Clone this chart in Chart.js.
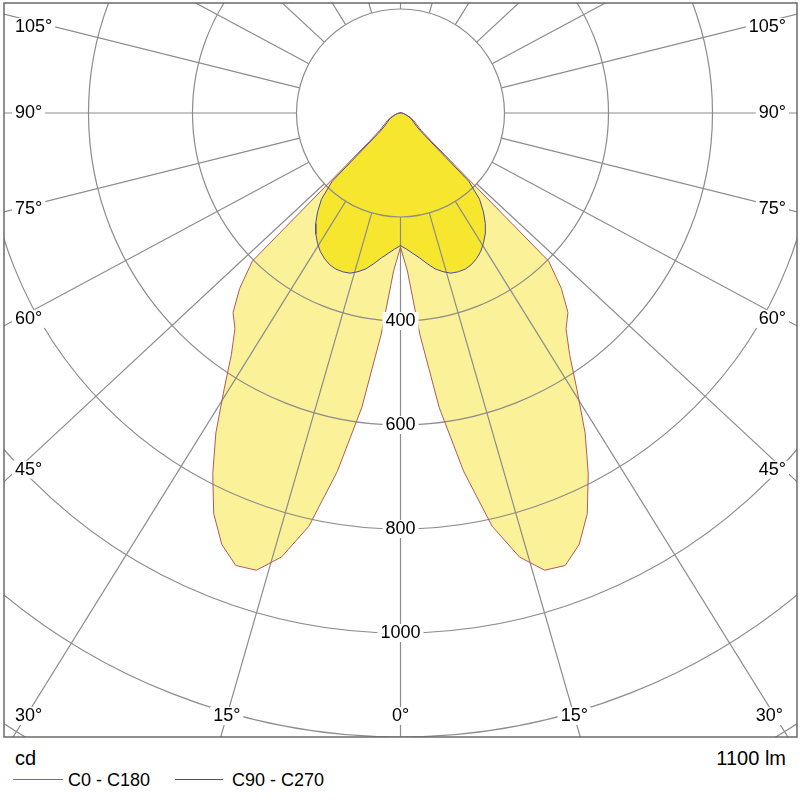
<!DOCTYPE html>
<html>
<head>
<meta charset="utf-8">
<script src="https://cdn.jsdelivr.net/npm/chart.js@4.4.1/dist/chart.umd.min.js"></script>
<style>
  html, body { margin: 0; padding: 0; background: #fff; }
  body { width: 800px; height: 800px; position: relative; overflow: hidden;
         font-family: "Liberation Sans", Arial, sans-serif; color: #000; }
  #wrap { position: absolute; left: 0; top: 0; width: 800px; height: 740px; }
  .foot { position: absolute; white-space: nowrap; }
  .unit { top: 748px; font-size: 20px; line-height: 20px; }
  .key { top: 771px; font-size: 18px; line-height: 18px; }
  .swatch { position: absolute; top: 779px; height: 1px; }
</style>
</head>
<body>
<div id="wrap"><canvas id="polar"></canvas></div>
<div class="foot unit" id="unitLabel" style="left:15px"></div>
<div class="foot unit" id="fluxLabel" style="right:14px"></div>
<div class="swatch" id="sw0" style="left:13px;width:50px"></div>
<div class="foot key" id="key0" style="left:68px"></div>
<div class="swatch" id="sw1" style="left:175px;width:48px"></div>
<div class="foot key" id="key1" style="left:232px"></div>
<script>
// Light distribution, symmetric planes. Angle 0 = straight down, 180 = straight up.
const angles = [0, 2.5, 5, 7.5, 10, 12.5, 15, 17.5, 20, 22.5, 25, 27.5, 30, 32.5, 35, 37.5, 40, 42.5, 45, 47.5, 50,
                55, 60, 65, 70, 75, 80, 85, 90, 95, 100, 105, 110, 115, 120, 125, 130, 135, 140, 145, 150, 155, 160, 165, 170, 175, 180];

// cd values, C0 - C180 plane
const c0c180 = [258, 304, 428, 572, 700, 814, 884, 922, 926, 898, 850, 782, 710, 632, 567, 523, 501, 458, 403, 82, 52,
                37, 29, 21, 14, 9, 6, 4, 2, 1, 1, 1, 1, 1, 1, 1, 1, 1, 1, 1, 1, 1, 1, 1, 1, 1, 1];

// cd values, C90 - C270 plane
const c90c270 = [255, 262, 271, 281, 294, 307, 316, 323, 325, 325, 322, 316, 308, 297, 284, 268, 248, 225, 186, 58, 41,
                 31, 25, 18, 12, 8, 5, 3, 2, 1, 1, 1, 1, 1, 1, 1, 1, 1, 1, 1, 1, 1, 1, 1, 1, 1, 1];

const rings = [200, 400, 600, 800, 1000, 1200, 1400];
const ringLabels = [400, 600, 800, 1000];
const angleTicks = [0, 15, 30, 45, 60, 75, 90, 105];
const seriesNames = ['C0 - C180', 'C90 - C270'];
const unitText = 'cd';
const fluxText = '1100 lm';

const C0_LINE = '#b05a5a';
const C90_LINE = '#4c4c9c';
const C0_FILL = 'rgb(251, 241, 152)';
const C90_FILL = 'rgb(246, 231, 46)';
const GRID = '#8c8c8c';
const FONT = '18px "Liberation Sans", Arial, sans-serif';

// the source draws its spokes a little flattened towards the horizontal
const LINE_SQUEEZE = 0.93;
const LABEL_SQUEEZE = 0.96;

// turn one plane into a closed outline (right half, then mirrored left half)
function polarPoints(values) {
  const pts = [];
  angles.forEach((a, i) => {
    const t = a * Math.PI / 180;
    pts.push({ x: values[i] * Math.sin(t), y: -values[i] * Math.cos(t) });
  });
  for (let i = angles.length - 2; i >= 0; i--) {
    const t = angles[i] * Math.PI / 180;
    pts.push({ x: -values[i] * Math.sin(t), y: -values[i] * Math.cos(t) });
  }
  return pts;
}

function spoke(deg, squeeze) {
  const t = deg * Math.PI / 180;
  const ux = Math.sin(t), uy = Math.cos(t) * squeeze;
  const n = Math.hypot(ux, uy);
  return [ux / n, uy / n];
}

function centre(chart) {
  const { x, y } = chart.scales;
  const cx = x.getPixelForValue(0), cy = y.getPixelForValue(0);
  const k = x.getPixelForValue(100) - cx; // px per 100 cd
  return { cx, cy, k };
}

function labelBox(ctx, text, px, py, align) {
  const w = ctx.measureText(text).width;
  let left = px - w / 2;
  if (align === 'left') left = px;
  if (align === 'right') left = px - w;
  ctx.fillStyle = '#fff';
  ctx.fillRect(left - 3, py - 9, w + 6, 18);
  ctx.fillStyle = '#000';
  ctx.fillText(text, left, py);
}

const polarGrid = {
  id: 'polarGrid',
  // grid goes over both fills but under the two outlines
  afterDatasetDraw(chart, args) {
    if (args.index !== 2) return;
    const { ctx, chartArea: a } = chart;
    const { cx, cy, k } = centre(chart);
    ctx.save();
    ctx.beginPath();
    ctx.rect(a.left, a.top, a.right - a.left, a.bottom - a.top);
    ctx.clip();
    ctx.strokeStyle = GRID;
    ctx.lineWidth = 1.2;
    rings.forEach(v => {
      ctx.beginPath();
      ctx.arc(cx, cy, v * k / 100, 0, Math.PI * 2);
      ctx.stroke();
    });
    const r0 = rings[0] * k / 100;
    for (let deg = 0; deg < 360; deg += 15) {
      const [ux, uy] = spoke(deg, LINE_SQUEEZE);
      ctx.beginPath();
      ctx.moveTo(cx + ux * r0, cy + uy * r0);
      ctx.lineTo(cx + ux * 2000, cy + uy * 2000);
      ctx.stroke();
    }
    ctx.restore();
  },
  afterDraw(chart) {
    const { ctx, chartArea: a } = chart;
    const { cx, cy, k } = centre(chart);
    ctx.save();
    ctx.font = FONT;
    ctx.textBaseline = 'middle';

    ringLabels.forEach(v => labelBox(ctx, String(v), cx, cy + v * k / 100, 'center'));

    const bottomY = a.bottom - 21;
    angleTicks.forEach(deg => {
      const text = deg + '°';
      const w = ctx.measureText(text).width;
      const sides = deg === 0 ? [1] : [-1, 1];
      sides.forEach(side => {
        const [bx, by] = spoke(deg, LINE_SQUEEZE);
        const toBottom = by > 0 ? (bottomY - cy) / by : Infinity;
        // side labels: downward spokes sit on a slightly steeper ray,
        // upward ones where the spoke leaves the label's inner end
        let py;
        if (deg > 90) {
          const reach = cx - a.left - 14 - w;
          py = cy + by * reach / bx;
        } else {
          const [lx, ly] = spoke(deg, LABEL_SQUEEZE);
          py = lx > 0 ? cy + ly * (cx - a.left - 25) / lx : Infinity;
        }
        if (py < bottomY - 30) {
          if (side < 0) labelBox(ctx, text, a.left + 11, py, 'left');
          else labelBox(ctx, text, a.right - 11, py, 'right');
        } else {
          let px = cx + side * bx * toBottom;
          px = Math.max(a.left + 11 + w / 2, Math.min(a.right - 14 - w / 2, px));
          labelBox(ctx, text, px, bottomY, 'center');
        }
      });
    });

    ctx.strokeStyle = '#6a6a6a';
    ctx.lineWidth = 1.5;
    ctx.strokeRect(a.left, a.top, a.right - a.left, a.bottom - a.top);
    ctx.restore();
  }
};

const c0Points = polarPoints(c0c180);
const c90Points = polarPoints(c90c270);

new Chart(document.getElementById('polar'), {
  type: 'line',
  data: {
    datasets: [
      // index 0 and 1: outlines (drawn last), 2 and 3: fills
      { label: seriesNames[1], data: c90Points, borderColor: C90_LINE, borderWidth: 1, fill: false },
      { label: seriesNames[0], data: c0Points, borderColor: C0_LINE, borderWidth: 1, fill: false },
      { label: seriesNames[1], data: c90Points, borderColor: 'rgba(0,0,0,0)', backgroundColor: C90_FILL, fill: 'shape' },
      { label: seriesNames[0], data: c0Points, borderColor: 'rgba(0,0,0,0)', backgroundColor: C0_FILL, fill: 'shape' }
    ]
  },
  options: {
    responsive: true,
    maintainAspectRatio: false,
    animation: false,
    layout: { padding: { left: 4, top: 3, right: 3, bottom: 3 } },
    elements: { point: { radius: 0 }, line: { tension: 0 } },
    plugins: { legend: { display: false }, tooltip: { enabled: false } },
    scales: {
      x: { type: 'linear', min: -762.5, max: 762.5, display: false },
      y: { type: 'linear', min: -1200, max: 211.5, display: false }
    }
  },
  plugins: [polarGrid]
});

document.getElementById('unitLabel').textContent = unitText;
document.getElementById('fluxLabel').textContent = fluxText;
document.getElementById('key0').textContent = seriesNames[0];
document.getElementById('key1').textContent = seriesNames[1];
document.getElementById('sw0').style.background = C0_LINE;
document.getElementById('sw1').style.background = '#555';
</script>
</body>
</html>
